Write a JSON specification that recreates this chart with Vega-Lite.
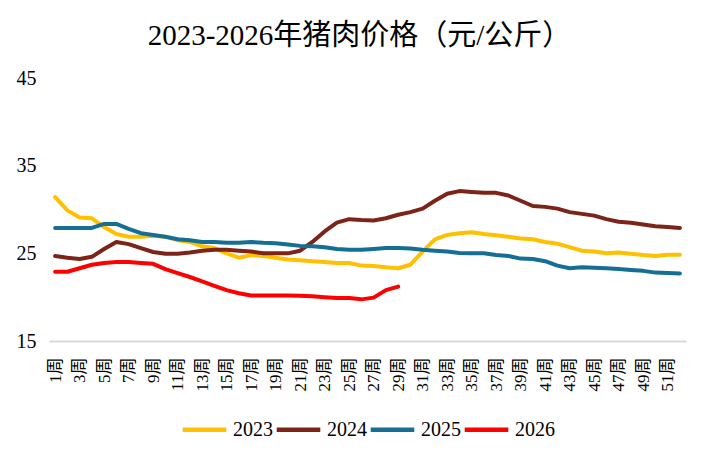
{
  "$schema": "https://vega.github.io/schema/vega-lite/v6.json",
  "autosize": "none",
  "width": 637,
  "height": 263,
  "padding": {"left": 49, "top": 78, "right": 23, "bottom": 124},
  "background": "white",
  "title": {
    "text": "2023-2026年猪肉价格（元/公斤）",
    "font": "Liberation Serif, Noto Sans CJK SC",
    "fontSize": 29,
    "fontWeight": "normal",
    "color": "#000000",
    "anchor": "middle",
    "frame": "group",
    "dx": -8,
    "offset": 17
  },
  "data": {
    "values": [
      {"w": 1, "2023": 31.4, "2024": 24.7, "2025": 27.9, "2026": 22.9},
      {"w": 2, "2023": 29.9, "2024": 24.5, "2025": 27.9, "2026": 22.9},
      {"w": 3, "2023": 29.1, "2024": 24.35, "2025": 27.9, "2026": 23.3},
      {"w": 4, "2023": 29.0, "2024": 24.6, "2025": 27.9, "2026": 23.7},
      {"w": 5, "2023": 28.0, "2024": 25.5, "2025": 28.35, "2026": 23.9},
      {"w": 6, "2023": 27.2, "2024": 26.3, "2025": 28.35, "2026": 24.0},
      {"w": 7, "2023": 26.9, "2024": 26.05, "2025": 27.8, "2026": 24.0},
      {"w": 8, "2023": 26.9, "2024": 25.6, "2025": 27.3, "2026": 23.9},
      {"w": 9, "2023": 27.0, "2024": 25.15, "2025": 27.1, "2026": 23.8},
      {"w": 10, "2023": 26.9, "2024": 24.95, "2025": 26.9, "2026": 23.2},
      {"w": 11, "2023": 26.5, "2024": 24.95, "2025": 26.6, "2026": 22.75},
      {"w": 12, "2023": 26.3, "2024": 25.1, "2025": 26.5, "2026": 22.3},
      {"w": 13, "2023": 25.8, "2024": 25.3, "2025": 26.3, "2026": 21.8},
      {"w": 14, "2023": 25.6, "2024": 25.4, "2025": 26.3, "2026": 21.3},
      {"w": 15, "2023": 25.0, "2024": 25.4, "2025": 26.2, "2026": 20.8},
      {"w": 16, "2023": 24.5, "2024": 25.3, "2025": 26.2, "2026": 20.45},
      {"w": 17, "2023": 24.8, "2024": 25.2, "2025": 26.3, "2026": 20.2},
      {"w": 18, "2023": 24.7, "2024": 25.0, "2025": 26.2, "2026": 20.2},
      {"w": 19, "2023": 24.5, "2024": 25.0, "2025": 26.15, "2026": 20.2},
      {"w": 20, "2023": 24.3, "2024": 25.0, "2025": 26.0, "2026": 20.2},
      {"w": 21, "2023": 24.2, "2024": 25.3, "2025": 25.85, "2026": 20.15},
      {"w": 22, "2023": 24.1, "2024": 26.3, "2025": 25.8, "2026": 20.1},
      {"w": 23, "2023": 24.0, "2024": 27.5, "2025": 25.7, "2026": 20.0},
      {"w": 24, "2023": 23.9, "2024": 28.5, "2025": 25.5, "2026": 19.9},
      {"w": 25, "2023": 23.9, "2024": 28.9, "2025": 25.4, "2026": 19.9},
      {"w": 26, "2023": 23.6, "2024": 28.8, "2025": 25.4, "2026": 19.75},
      {"w": 27, "2023": 23.55, "2024": 28.75, "2025": 25.5, "2026": 19.95},
      {"w": 28, "2023": 23.4, "2024": 29.0, "2025": 25.6, "2026": 20.8},
      {"w": 29, "2023": 23.3, "2024": 29.4, "2025": 25.6, "2026": 21.2},
      {"w": 30, "2023": 23.7, "2024": 29.7, "2025": 25.55},
      {"w": 31, "2023": 25.2, "2024": 30.1, "2025": 25.4},
      {"w": 32, "2023": 26.6, "2024": 31.0, "2025": 25.3},
      {"w": 33, "2023": 27.1, "2024": 31.8, "2025": 25.2},
      {"w": 34, "2023": 27.3, "2024": 32.1, "2025": 25.05},
      {"w": 35, "2023": 27.4, "2024": 32.0, "2025": 25.0},
      {"w": 36, "2023": 27.2, "2024": 31.9, "2025": 25.0},
      {"w": 37, "2023": 27.05, "2024": 31.9, "2025": 24.8},
      {"w": 38, "2023": 26.9, "2024": 31.6, "2025": 24.7},
      {"w": 39, "2023": 26.7, "2024": 31.0, "2025": 24.4},
      {"w": 40, "2023": 26.6, "2024": 30.4, "2025": 24.35},
      {"w": 41, "2023": 26.3, "2024": 30.3, "2025": 24.1},
      {"w": 42, "2023": 26.1, "2024": 30.1, "2025": 23.6},
      {"w": 43, "2023": 25.7, "2024": 29.7, "2025": 23.3},
      {"w": 44, "2023": 25.3, "2024": 29.5, "2025": 23.4},
      {"w": 45, "2023": 25.2, "2024": 29.3, "2025": 23.35},
      {"w": 46, "2023": 25.0, "2024": 28.9, "2025": 23.3},
      {"w": 47, "2023": 25.1, "2024": 28.6, "2025": 23.2},
      {"w": 48, "2023": 24.95, "2024": 28.5, "2025": 23.1},
      {"w": 49, "2023": 24.8, "2024": 28.3, "2025": 23.0},
      {"w": 50, "2023": 24.7, "2024": 28.1, "2025": 22.8},
      {"w": 51, "2023": 24.85, "2024": 28.0, "2025": 22.75},
      {"w": 52, "2023": 24.85, "2024": 27.9, "2025": 22.7}
    ]
  },
  "transform": [
    {"fold": ["2023", "2024", "2025", "2026"], "as": ["year", "v"]},
    {"filter": "isValid(datum.v)"}
  ],
  "mark": {"type": "line", "strokeWidth": 4, "strokeCap": "round", "strokeJoin": "round"},
  "encoding": {
    "x": {
      "field": "w",
      "type": "ordinal",
      "scale": {"type": "point", "padding": 0.5},
      "axis": {
        "title": null,
        "values": [1,3,5,7,9,11,13,15,17,19,21,23,25,27,29,31,33,35,37,39,41,43,45,47,49,51],
        "labelExpr": "datum.value + '周'",
        "labelAngle": -90,
        "labelFont": "Liberation Serif, Noto Sans CJK SC",
        "labelFontSize": 17,
        "labelColor": "#000000",
        "labelPadding": 16,
        "ticks": false,
        "grid": false,
        "domainColor": "#d9d9d9",
        "domainWidth": 2
      }
    },
    "y": {
      "field": "v",
      "type": "quantitative",
      "scale": {"domain": [15, 45], "nice": false, "zero": false},
      "axis": {
        "title": null,
        "values": [15, 25, 35, 45],
        "labelFont": "Liberation Serif",
        "labelFontSize": 20,
        "labelColor": "#000000",
        "labelPadding": 13,
        "ticks": false,
        "grid": false,
        "domain": false
      }
    },
    "color": {
      "field": "year",
      "type": "nominal",
      "scale": {
        "domain": ["2023", "2024", "2025", "2026"],
        "range": ["#FFC000", "#7D2418", "#156F94", "#FF0000"]
      },
      "legend": {
        "title": null,
        "orient": "bottom",
        "direction": "horizontal",
        "symbolType": "stroke",
        "symbolSize": 1900,
        "symbolStrokeWidth": 4.5,
        "labelFont": "Liberation Serif",
        "labelFontSize": 20,
        "labelColor": "#000000",
        "labelOffset": 4,
        "columnPadding": -6,
        "offset": 14
      }
    }
  },
  "config": {
    "view": {"stroke": null},
    "legend": {"layout": {"bottom": {"anchor": "middle"}}}
  }
}
